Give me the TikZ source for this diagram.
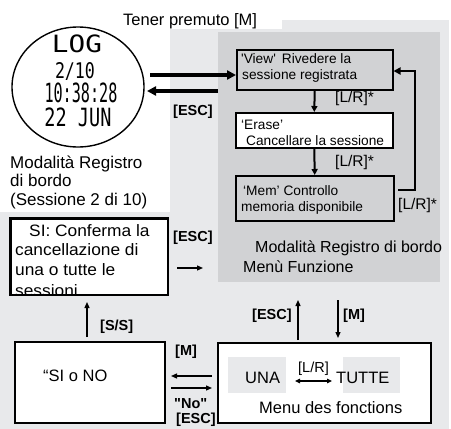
\documentclass[tikz,border=0pt]{standalone}
\usepackage{fontspec}
\usetikzlibrary{arrows.meta,calc,shapes.geometric}
\newfontfamily\af{Liberation Sans}
\newfontfamily\afw[FakeStretch=1.05]{Liberation Sans}
\newfontfamily\lcdf{DejaVu Sans Mono}
\definecolor{lg}{RGB}{232,233,235}
\definecolor{dg}{RGB}{209,210,212}
\tikzset{
  txt/.style={inner sep=0pt, anchor=base west, font=\af\fontsize{16.5pt}{18pt}\selectfont},
  captxt/.style={txt, font=\af\fontsize{17pt}{18pt}\selectfont},
  pantxt/.style={txt, font=\af\fontsize{16pt}{18pt}\selectfont},
  smalltxt/.style={txt, font=\af\fontsize{13.7pt}{16pt}\selectfont},
  sitxt/.style={txt, font=\afw\fontsize{16.5pt}{18pt}\selectfont},
  lrtxt/.style={txt, font=\af\fontsize{15.5pt}{16pt}\selectfont},
  lbl/.style={inner sep=0pt, anchor=base west, font=\af\bfseries\fontsize{14.5pt}{16pt}\selectfont},
  box/.style={draw, line width=1.5pt, inner sep=0pt, anchor=north west},
  lcdnode/.style={inner sep=0pt},
  thinarrow/.style={line width=1.3pt, -{Triangle[length=6pt,width=5pt]}},
  dblarrow/.style={line width=1.2pt, {Triangle[length=5pt,width=4.5pt]}-{Triangle[length=5pt,width=4.5pt]}},
  midarrow/.style={line width=2pt, -{Triangle[length=6pt,width=6pt]}},
  thickarrow/.style={line width=3.2pt, -{Triangle[length=9pt,width=9pt]}},
  looparrow/.style={line width=2.6pt, -{Triangle[length=7pt,width=7pt]}},
}
\begin{document}
\begin{tikzpicture}[x=1pt,y=-1pt]
\useasboundingbox (0,0) rectangle (451,429);
% backgrounds
\fill[white] (0,0) rectangle (451,429);
\fill[lg] (170,20) rectangle (449,429);
\fill[lg] (0,212) rectangle (449,429);
\fill[white] (112,0) rectangle (282,29);
\node[fill=dg, anchor=north west, minimum width=222pt, minimum height=250pt, inner sep=0pt] (panel) at (218,32) {};

% title
\node[txt] (title) at (123,25) {Tener premuto [M]};

% display
\node[draw, ellipse, line width=1.4pt, minimum width=132pt, minimum height=120pt, inner sep=0pt, fill=white] (disp) at (78,87) {};
\node[lcdnode] (lcd1) at (77,44) {\resizebox*{50pt}{18pt}{\lcdf LOG}};
\node[lcdnode] (lcd2) at (75,71) {\resizebox*{40pt}{18pt}{\lcdf 2/10}};
\node[lcdnode] (lcd3) at (81,93) {\resizebox*{73pt}{20pt}{\lcdf 10:38:28}};
\node[lcdnode] (lcd4) at (78,117.5) {\resizebox*{67pt}{19pt}{\lcdf 22 JUN}};

\node[captxt] (cap1) at (10,168) {Modalità Registro};
\node[captxt] (cap2) at (10,186.5) {di bordo};
\node[captxt] (cap3) at (10,205) {(Sessione 2 di 10)};

% function boxes
\node[box, minimum width=156pt, minimum height=40pt] (view) at (236,49) {};
\node[box, fill=white, minimum width=157pt, minimum height=35pt] (erase) at (235,112) {};
\node[box, minimum width=158pt, minimum height=45pt] (mem) at (235,175) {};

\node[smalltxt] (view1) at (241,63) {'View'\hspace{6pt}Rivedere la};
\node[smalltxt] (view2) at (242,79) {sessione registrata};
\node[smalltxt] (erase1) at (241,129) {‘Erase’};
\node[smalltxt] (erase2) at (246,145) {Cancellare la sessione};
\node[smalltxt] (mem1) at (243,195) {‘Mem’ Controllo};
\node[smalltxt] (mem2) at (241,211) {memoria disponibile};

\node[lrtxt] (lr1) at (335,102) {[L/R]*};
\node[lrtxt] (lr2) at (335,166) {[L/R]*};
\node[lrtxt] (lr3) at (398,209) {[L/R]*};

\draw[midarrow] (view.south) -- (erase.north);
\draw[midarrow] (erase.south) -- (mem.north);
\coordinate (l0) at (398,190);
\coordinate (l1) at (415,71);
\draw[looparrow] (l0) -| (l1) -- (view.east |- l1);

\node[pantxt] (pan1) at (255,252) {Modalità Registro di bordo};
\node[pantxt] (pan2) at (243,272) {Menù Funzione};

% display <-> view
\coordinate (d0) at (150,75);
\draw[thickarrow] (d0) -- (view.west |- d0);
\coordinate (d1) at (147,91);
\draw[thickarrow] (panel.west |- d1) -- (d1);
\node[lbl] (esc1) at (173,115) {[ESC]};

% SI box
\node[box, fill=white, minimum width=157pt, minimum height=76pt] (si) at (10,218) {};
\begin{scope}
\clip (si.south west) rectangle (si.north east);
\node[sitxt] (si1) at (29,236) {SI: Conferma la};
\node[sitxt] (si2) at (15,255.5) {cancellazione di};
\node[sitxt] (si3) at (15,275) {una o tutte le};
\node[sitxt] (si4) at (15,296.5) {sessioni};
\end{scope}
\draw[line width=1.5pt] (si.south west) rectangle (si.north east);

\node[lbl] (esc2) at (173,241) {[ESC]};
\coordinate (e0) at (177,268);
\coordinate (e1) at (203,268);
\draw[thinarrow] (e0) -- (e1);

% SI o NO box
\node[box, fill=white, minimum width=150pt, minimum height=81pt] (sino) at (14,341) {};
\node[txt] (sinot) at (43,381) {“SI o NO};
\coordinate (s0) at (87,337);
\coordinate (s1) at (87,302);
\draw[thinarrow] (s0) -- (s1);
\node[lbl] (ss) at (100,330) {[S/S]};

% Menu box
\node[box, fill=white, minimum width=213pt, minimum height=80pt] (menu) at (217,342) {};
\node[fill=lg, anchor=north west, inner sep=0pt, minimum width=58pt, minimum height=36pt] (unab) at (228,357) {};
\node[fill=lg, anchor=north west, inner sep=0pt, minimum width=57pt, minimum height=36pt] (tutteb) at (343,357) {};
\node[txt] (una) at (245,383) {UNA};
\node[txt] (tutte) at (336,383) {TUTTE};
\node[txt, font=\af\fontsize{14.5pt}{16pt}\selectfont] (lr4) at (298,372) {[L/R]};
\coordinate (u0) at (295,381);
\coordinate (u1) at (332,381);
\draw[dblarrow] (u0) -- (u1);
\node[txt] (menut) at (259,413) {Menu des fonctions};

% arrows between sino and menu
\coordinate (m0) at (212,376);
\coordinate (m1) at (171,376);
\draw[thinarrow] (m0) -- (m1);
\node[lbl] (m) at (175,355) {[M]};
\coordinate (n0) at (171,388);
\coordinate (n1) at (212,388);
\draw[thinarrow] (n0) -- (n1);
\node[lbl] (no) at (174,408) {"No"};
\node[lbl] (esc3) at (176,423) {[ESC]};

% arrows between panel and menu
\coordinate (p0) at (298,340);
\coordinate (p1) at (298,300);
\draw[thinarrow] (p0) -- (p1);
\node[lbl] (esc4) at (252,319) {[ESC]};
\coordinate (q0) at (338,300);
\coordinate (q1) at (338,338);
\draw[thinarrow] (q0) -- (q1);
\node[lbl] (m2) at (343,319) {[M]};
\end{tikzpicture}
\end{document}
